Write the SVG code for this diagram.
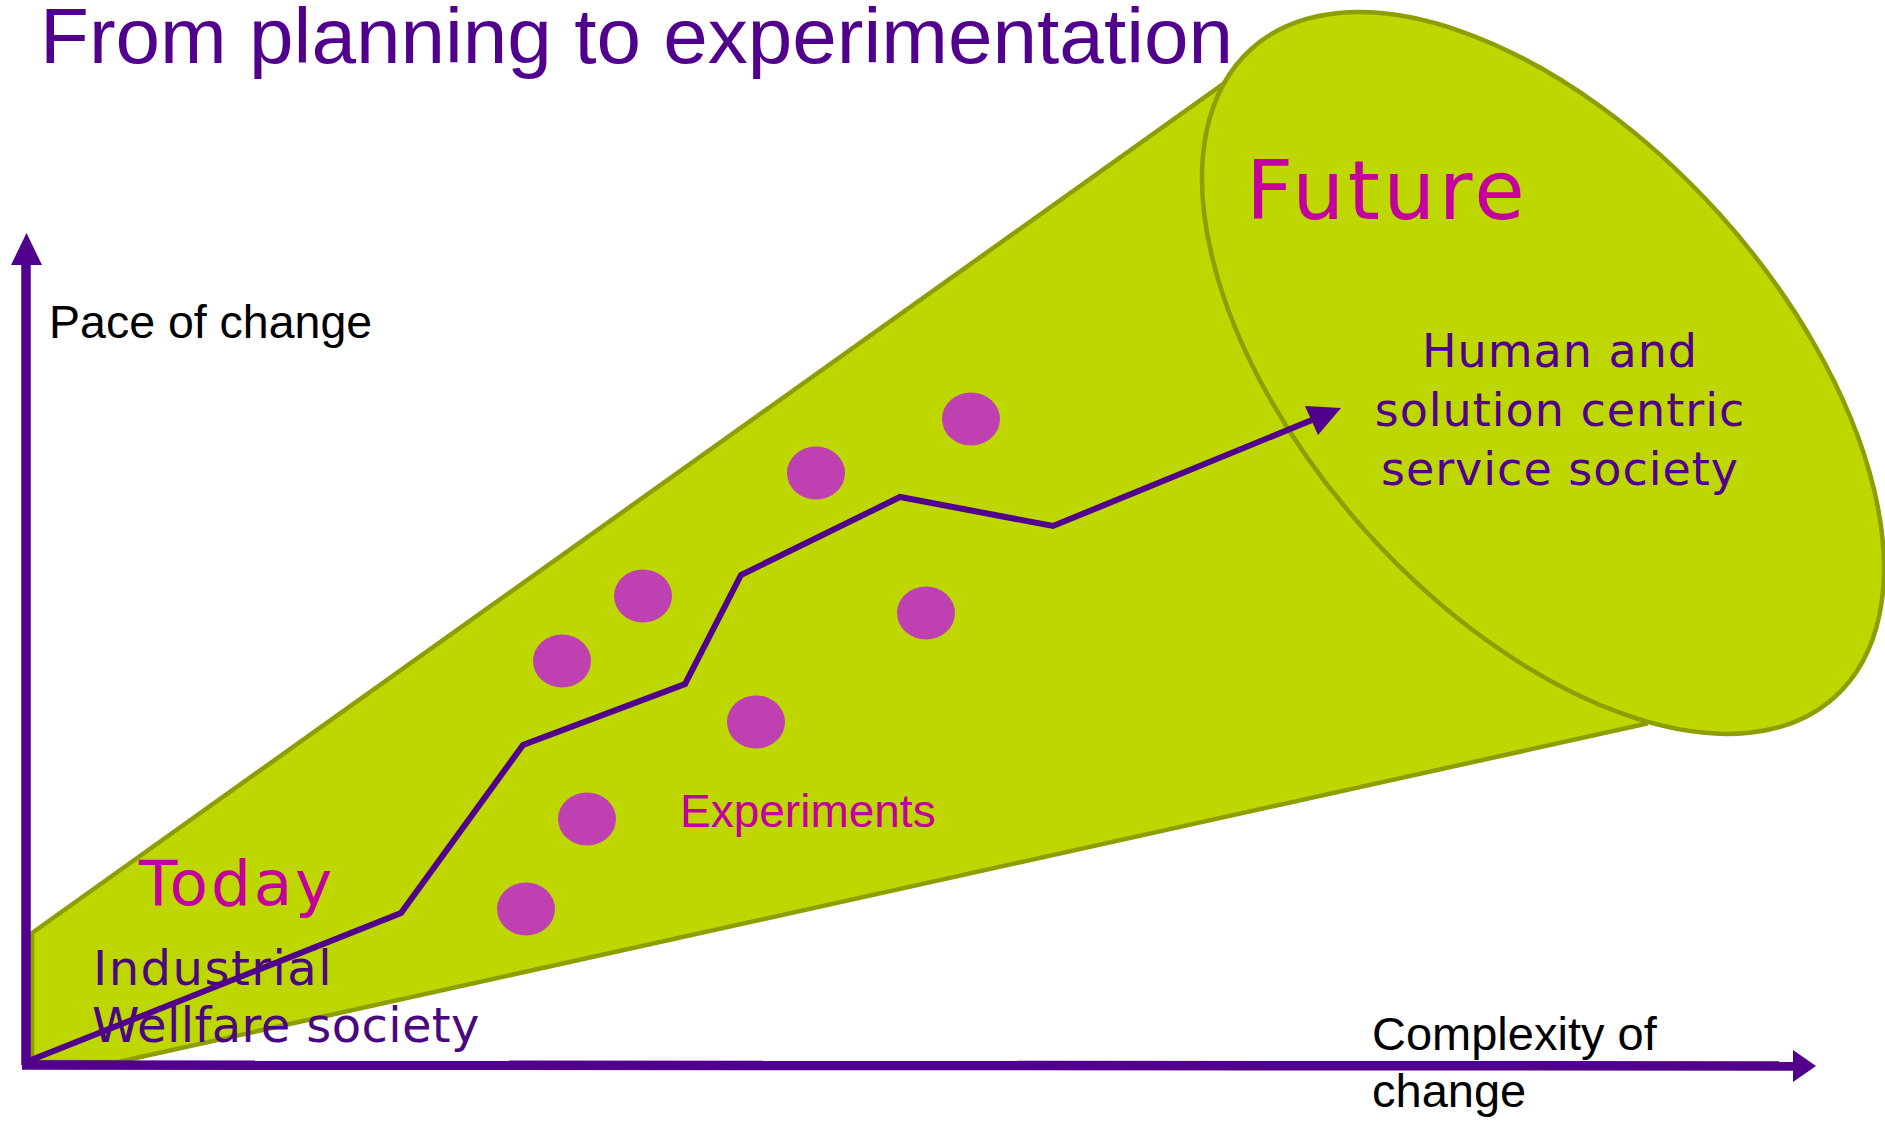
<svg xmlns="http://www.w3.org/2000/svg" width="1885" height="1121" viewBox="0 0 1885 1121">
<style>
.cone{fill:#BED700;stroke:#8C9E00;stroke-width:4.5}
.dot{fill:#BF40B0}
.axis{stroke:#50008C;stroke-width:9.5;fill:none}
.path{stroke:#50008C;stroke-width:6;fill:none;stroke-linejoin:miter}
.head{fill:#50008C}
.sans{font-family:"Liberation Sans",Arial,sans-serif}
.dv{font-family:"DejaVu Sans",Verdana,sans-serif}
.mag{fill:#C3009E}
.pur{fill:#50008C}
</style>
<rect width="1885" height="1121" fill="#FFFFFF"/>
<g id="cone">
<polygon class="cone" points="32,933 1226,82 1645,724 118,1062 32,1062"/>
<ellipse class="cone" cx="1543" cy="373" rx="436" ry="237.5" transform="rotate(48 1543 373)"/>
</g>
<g id="experiments-dots">
<ellipse class="dot" cx="971" cy="419" rx="29" ry="26.5"/>
<ellipse class="dot" cx="816" cy="473" rx="29" ry="26.5"/>
<ellipse class="dot" cx="643" cy="596" rx="29" ry="26.5"/>
<ellipse class="dot" cx="562" cy="661" rx="29" ry="26.5"/>
<ellipse class="dot" cx="926" cy="613" rx="29" ry="26.5"/>
<ellipse class="dot" cx="756" cy="722" rx="29" ry="26.5"/>
<ellipse class="dot" cx="587" cy="819" rx="29" ry="26.5"/>
<ellipse class="dot" cx="526" cy="909" rx="29" ry="26.5"/>
</g>
<g id="title"><text class="sans pur" x="40" y="63" font-size="78" textLength="1193" lengthAdjust="spacingAndGlyphs">From planning to experimentation</text></g>
<g id="future"><text class="dv mag" x="1246" y="219" font-size="82" letter-spacing="3.5">Future</text></g>
<g id="future-society"><text class="dv pur" font-size="46" text-anchor="middle" letter-spacing="1"><tspan x="1560" y="367">Human and</tspan><tspan x="1560" y="426">solution centric</tspan><tspan x="1560" y="485">service society</tspan></text></g>
<g id="today"><text class="dv mag" x="139" y="905" font-size="63" letter-spacing="2.8">Today</text></g>
<g id="today-society"><text class="dv" fill="#4A0880" font-size="48"><tspan x="93" y="985" letter-spacing="1.5">Industrial</tspan><tspan x="92" y="1042" letter-spacing="0.4">Wellfare society</tspan></text></g>
<g id="experiments-label"><text class="sans mag" x="680" y="827" font-size="46">Experiments</text></g>
<g id="y-label"><text class="sans" fill="#000" x="49" y="338" font-size="46.5">Pace of change</text></g>
<g id="x-label"><text class="sans" fill="#000" font-size="47"><tspan x="1372" y="1050">Complexity of</tspan><tspan x="1372" y="1107">change</tspan></text></g>
<g id="connectors">
<polyline class="path" points="26,1062 401,913 523,745 685,684 741,575 900,497 1053,526 1312,420"/>
<polygon class="head" points="1341,408 1305,406 1318,435"/>
<line class="axis" x1="26" y1="1065" x2="26" y2="262"/>
<polygon class="head" points="11,265 42,265 26.5,233"/>
<line class="axis" x1="22" y1="1065" x2="1796" y2="1066"/>
<polygon class="head" points="1793,1050 1793,1082 1816,1066"/>
</g>
</svg>
